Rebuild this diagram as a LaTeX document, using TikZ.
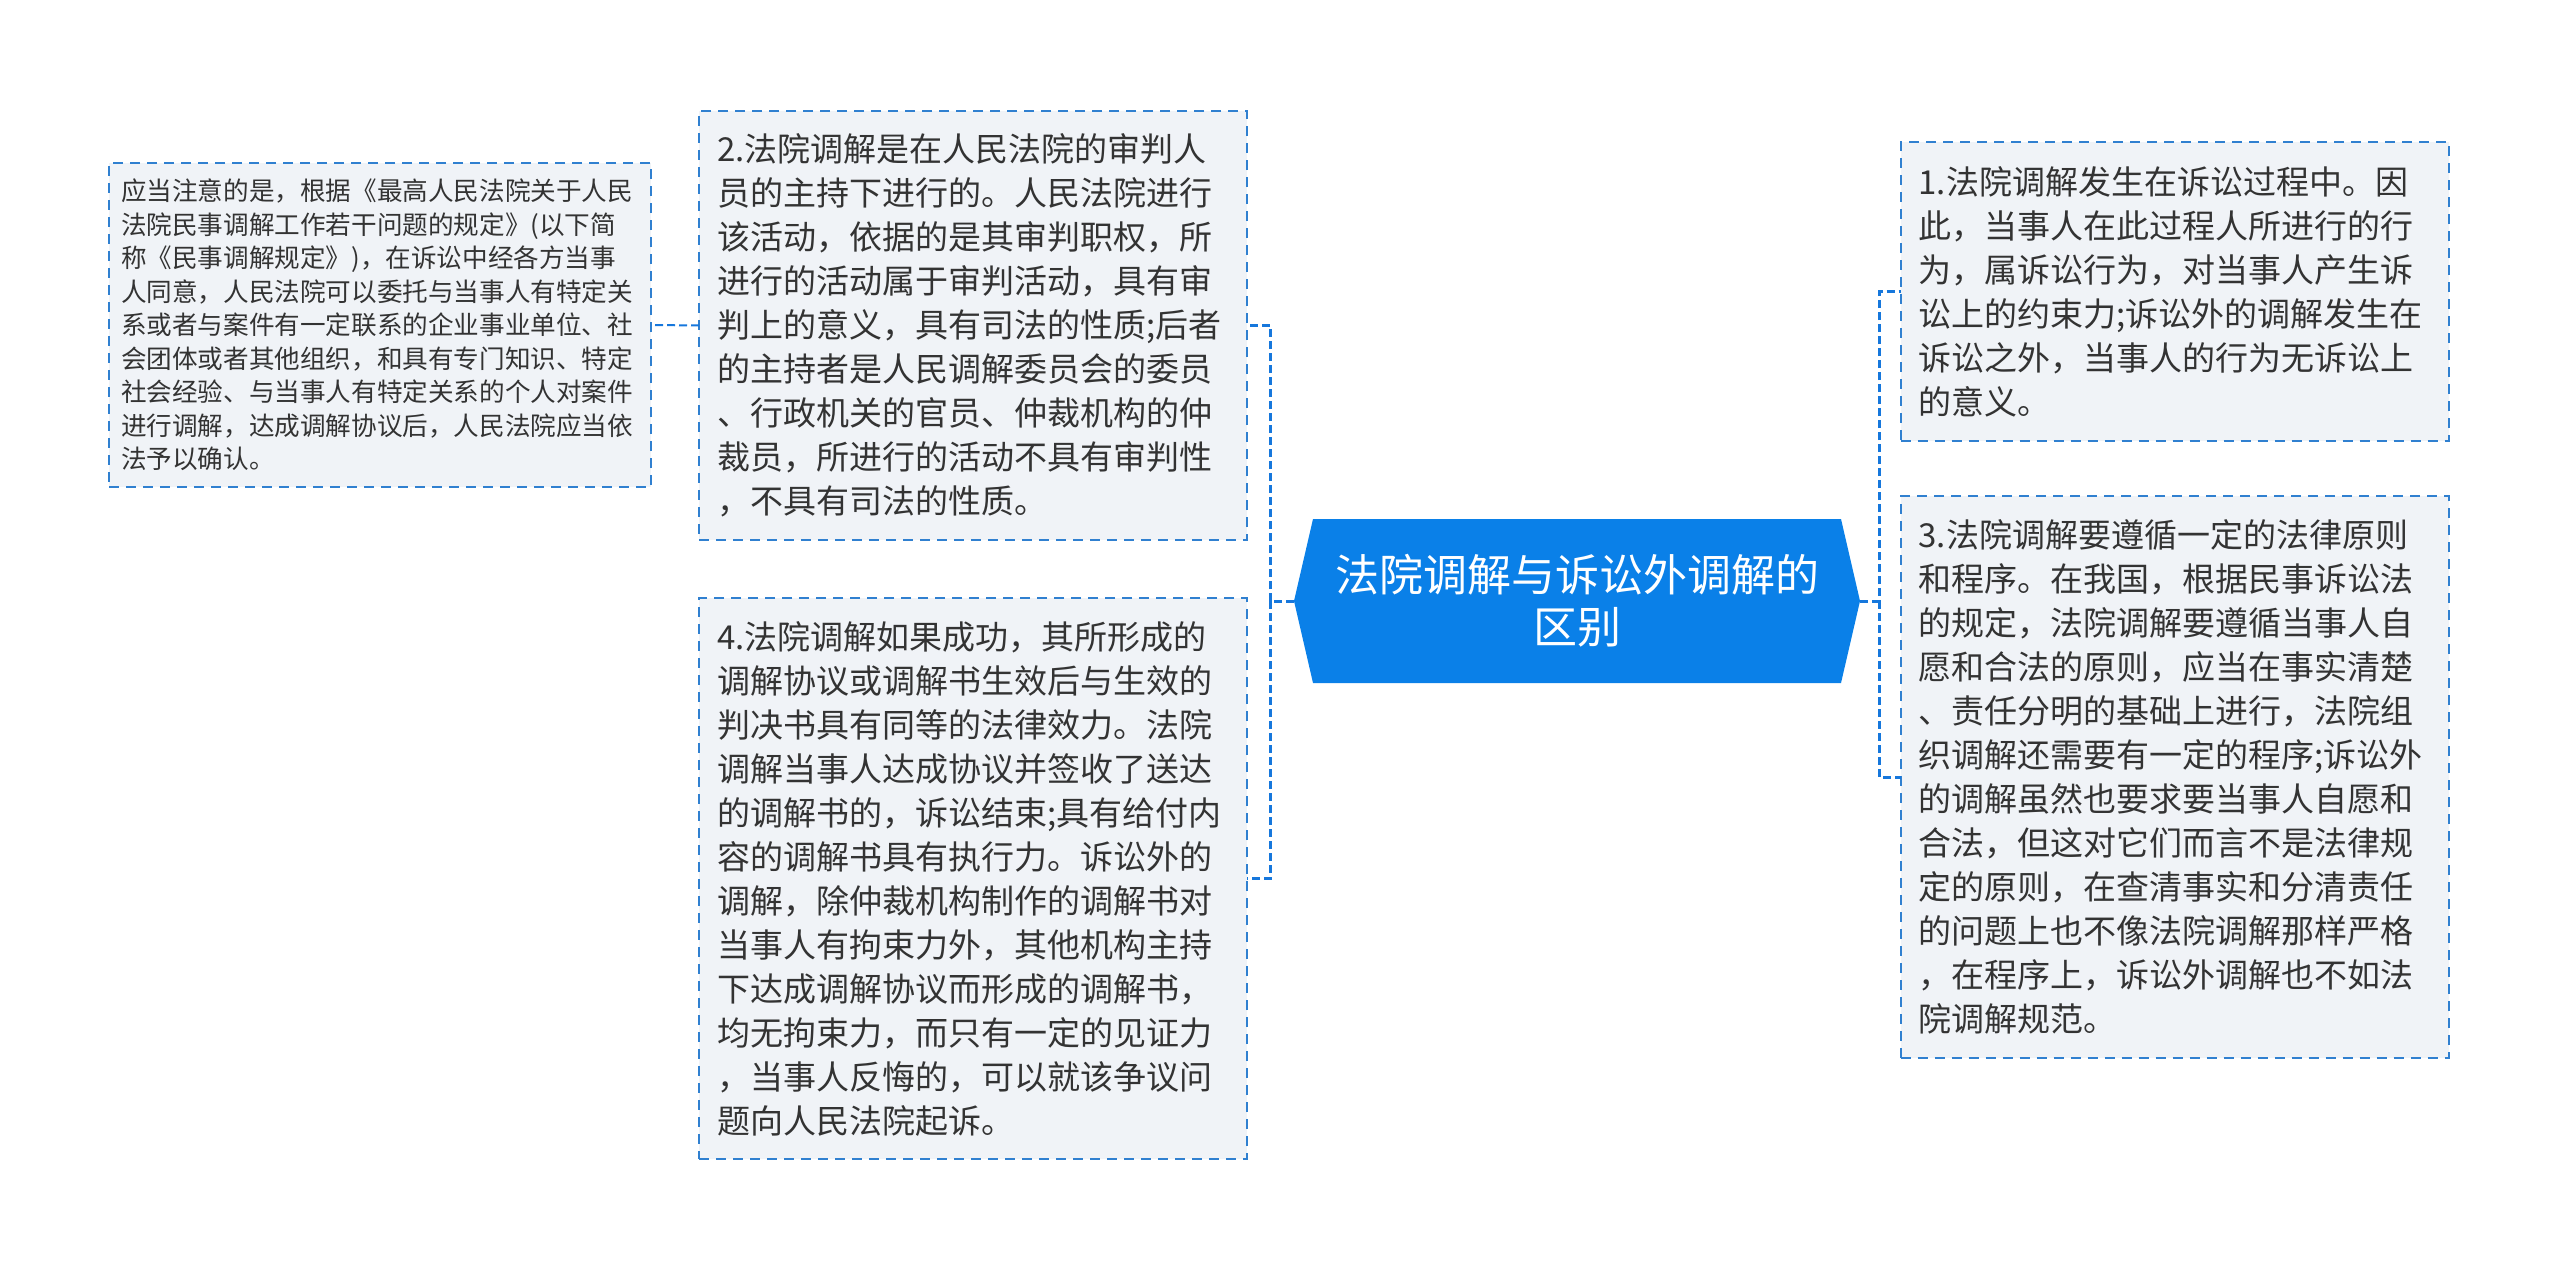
\documentclass[tikz,border=0pt]{standalone}
\usepackage{fontspec}
\setmainfont{Noto Sans CJK SC}
\usepackage{tikz}

\definecolor{rootblue}{RGB}{10,128,232}
\definecolor{linkblue}{RGB}{22,119,220}
\definecolor{edgeblue}{RGB}{48,128,208}
\definecolor{boxfill}{RGB}{240,243,247}
\definecolor{textgray}{RGB}{51,51,51}

\begin{document}
\begin{tikzpicture}[
		x=0.5pt,
		y=-0.5pt,
		every node/.style={text=textgray, outer sep=0pt},
		topicbox/.style={draw=edgeblue, fill=boxfill, line width=1pt,
			dash pattern=on 5pt off 3.5pt, align=left, inner xsep=9pt,
			inner ysep=0pt, text width=256pt,
			font=\fontsize{16.5pt}{22pt}\selectfont},
		notebox/.style={topicbox, inner xsep=6pt, text width=259pt,
			font=\fontsize{12.8pt}{16.75pt}\selectfont},
		rootbox/.style={text=white, align=center, inner sep=0pt,
			minimum width=283pt, minimum height=82pt,
			font=\fontsize{22pt}{26pt}\selectfont},
		linkline/.style={draw=linkblue, line width=1.5pt,
			dash pattern=on 4pt off 2pt}
		]
		
		\def\RootLeft{1294}
		\def\RootRight{1860}
		\def\RootTop{519}
		\def\RootBottom{683}
		\def\RootMid{601}
		\def\RootBevel{19}
		
		\useasboundingbox (0,0) rectangle (2560,1269);
		
		% Central topic: blue hexagon, text node on top of it.
		\fill[rootblue]
		(\RootLeft,\RootMid) -- ({\RootLeft+\RootBevel},\RootTop)
		-- ({\RootRight-\RootBevel},\RootTop) -- (\RootRight,\RootMid)
		-- ({\RootRight-\RootBevel},\RootBottom) -- ({\RootLeft+\RootBevel},\RootBottom)
		-- cycle;
		\node[rootbox] (root) at (1577,\RootMid) {法院调解与诉讼外调解的\\区别};
		
		% Left branch: points 2 and 4, plus the note hanging off point 2.
		\node[topicbox, minimum height=214.5pt] (pointtwo) at (973,325.5) {2.法院调解是在人民法院的审判人\\
			员的主持下进行的。人民法院进行\\
			该活动，依据的是其审判职权，所\\
			进行的活动属于审判活动，具有审\\
			判上的意义，具有司法的性质;后者\\
			的主持者是人民调解委员会的委员\\
			、行政机关的官员、仲裁机构的仲\\
			裁员，所进行的活动不具有审判性\\
			，不具有司法的性质。};
		
		\node[topicbox, minimum height=280.5pt] (pointfour) at (973,878.5) {4.法院调解如果成功，其所形成的\\
			调解协议或调解书生效后与生效的\\
			判决书具有同等的法律效力。法院\\
			调解当事人达成协议并签收了送达\\
			的调解书的，诉讼结束;具有给付内\\
			容的调解书具有执行力。诉讼外的\\
			调解，除仲裁机构制作的调解书对\\
			当事人有拘束力外，其他机构主持\\
			下达成调解协议而形成的调解书，\\
			均无拘束力，而只有一定的见证力\\
			，当事人反悔的，可以就该争议问\\
			题向人民法院起诉。};
		
		\node[notebox, minimum height=162pt] (note) at (380,325) {应当注意的是，根据《最高人民法院关于人民\\
			法院民事调解工作若干问题的规定》(以下简\\
			称《民事调解规定》)，在诉讼中经各方当事\\
			人同意，人民法院可以委托与当事人有特定关\\
			系或者与案件有一定联系的企业事业单位、社\\
			会团体或者其他组织，和具有专门知识、特定\\
			社会经验、与当事人有特定关系的个人对案件\\
			进行调解，达成调解协议后，人民法院应当依\\
			法予以确认。};
		
		% Right branch: points 1 and 3.
		\node[topicbox, minimum height=149.5pt] (pointone) at (2174.5,291.5) {1.法院调解发生在诉讼过程中。因\\
			此，当事人在此过程人所进行的行\\
			为，属诉讼行为，对当事人产生诉\\
			讼上的约束力;诉讼外的调解发生在\\
			诉讼之外，当事人的行为无诉讼上\\
			的意义。};
		
		\node[topicbox, minimum height=281pt] (pointthree) at (2174.5,777) {3.法院调解要遵循一定的法律原则\\
			和程序。在我国，根据民事诉讼法\\
			的规定，法院调解要遵循当事人自\\
			愿和合法的原则，应当在事实清楚\\
			、责任分明的基础上进行，法院组\\
			织调解还需要有一定的程序;诉讼外\\
			的调解虽然也要求要当事人自愿和\\
			合法，但这对它们而言不是法律规\\
			定的原则，在查清事实和分清责任\\
			的问题上也不像法院调解那样严格\\
			，在程序上，诉讼外调解也不如法\\
			院调解规范。};
		
		% Elbow connectors.
		\coordinate (leftjoin) at (1270,\RootMid);
		\coordinate (rightjoin) at (1879,\RootMid);
		\draw[linkline] (root.west) -- (leftjoin) |- (pointtwo.east);
		\draw[linkline] (leftjoin) |- (pointfour.east);
		\draw[linkline] (root.east) -- (rightjoin) |- (pointone.west);
		\draw[linkline] (rightjoin) |- (pointthree.west);
		\draw[linkline, line width=1pt] (pointtwo.west) -- (note.east);
		
	\end{tikzpicture}
\end{document}
